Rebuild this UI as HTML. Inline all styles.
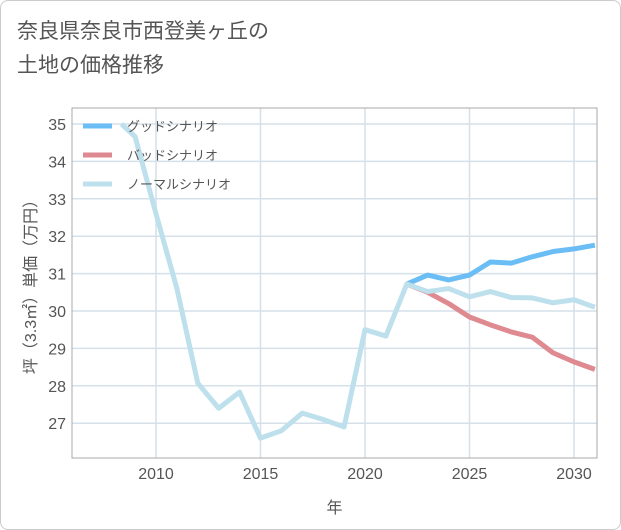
<!DOCTYPE html>
<html><head><meta charset="utf-8"><style>
body{margin:0;background:#fff;}
#wrap{position:relative;width:619px;height:528px;border:1px solid #ccc;border-radius:8px;overflow:hidden;background:#fff;font-family:"Liberation Sans","Noto Sans CJK JP",sans-serif;}
#title{position:absolute;left:16px;top:14px;font-size:21px;line-height:34px;color:#555;}
</style></head><body>
<div id="wrap">
<div id="title">奈良県奈良市西登美ヶ丘の<br>土地の価格推移</div>
<svg id="chart" width="621" height="530" style="position:absolute;left:-1px;top:-1px"></svg>
</div>
<script>
const yearsNormal=[2008.35,2009,2010,2011,2012,2013,2014,2015,2016,2017,2018,2019,2020,2021,2022,2023,2024,2025,2026,2027,2028,2029,2030,2031];
const normalVals=[35.0,34.66,32.6,30.6,28.07,27.4,27.83,26.6,26.8,27.27,27.1,26.9,29.5,29.33,30.72,30.52,30.6,30.38,30.52,30.36,30.35,30.22,30.3,30.1];
const yearsScen=[2022,2023,2024,2025,2026,2027,2028,2029,2030,2031];
const goodVals=[30.72,30.96,30.83,30.96,31.31,31.28,31.45,31.59,31.66,31.76];
const badVals=[30.72,30.5,30.2,29.84,29.63,29.44,29.3,28.88,28.64,28.44];
const xTicks=[2010,2015,2020,2025,2030];
const yTicks=[27,28,29,30,31,32,33,34,35];
const L=72,R=597,T=108,B=458;
const X=y=>156+(y-2010)*20.9;
const Y=v=>124+(35-v)*37.4;
const svg=document.getElementById('chart');
const NS='http://www.w3.org/2000/svg';
function mk(t,a,p){const e=document.createElementNS(NS,t);for(const k in a)e.setAttribute(k,a[k]);(p||svg).appendChild(e);return e;}
// grid
yTicks.forEach(v=>{
 const g=mk('line',{x1:L,x2:R,y1:Y(v),y2:Y(v),stroke:'#d5e0ea','stroke-width':1.5});
 
 
 const t=mk('text',{x:L-6,y:Y(v)+6,'text-anchor':'end','font-size':16,fill:'#555'});
 t.textContent=v;
 
 
});
xTicks.forEach(v=>{
 const g=mk('line',{x1:X(v),x2:X(v),y1:T,y2:B,stroke:'#d5e0ea','stroke-width':1.5});
 
 
 const t=mk('text',{x:X(v),y:B+21,'text-anchor':'middle','font-size':16,fill:'#555'});
 t.textContent=v;
 
 
});
const frame=mk('rect',{x:L,y:T,width:R-L,height:B-T,fill:'none',stroke:'#aaa','stroke-width':1});


function line(xs,vs,color,name){
 const p=mk('polyline',{points:xs.map((x,i)=>X(x)+','+Y(vs[i])).join(' '),fill:'none',stroke:color,'stroke-width':5,'stroke-linejoin':'round'});
 
 
}
line(yearsScen,goodVals,'#6bbdf5','good-scenario-line');
line(yearsScen,badVals,'#de8a90','bad-scenario-line');
line(yearsNormal,normalVals,'#bde0ec','normal-scenario-line');
// legend
const leg=[['グッドシナリオ','#6bbdf5'],['バッドシナリオ','#de8a90'],['ノーマルシナリオ','#bde0ec']];
leg.forEach((d,i)=>{
 const y=126+i*29;
 const s=mk('line',{x1:83,x2:112,y1:y,y2:y,stroke:d[1],'stroke-width':5});
 
 
 const t=mk('text',{x:127,y:y+5,'font-size':13,fill:'#555'});
 t.textContent=d[0];
 
 
});
const xt=mk('text',{x:(L+R)/2,y:B+55,'text-anchor':'middle','font-size':16,fill:'#555'});
xt.textContent='年';


const yt=mk('text',{x:0,y:0,'text-anchor':'middle','font-size':16,fill:'#555',transform:'translate(36,'+((T+B)/2)+') rotate(-90)'});
yt.textContent='坪（3.3㎡）単価（万円）';


</script>
</body></html>
